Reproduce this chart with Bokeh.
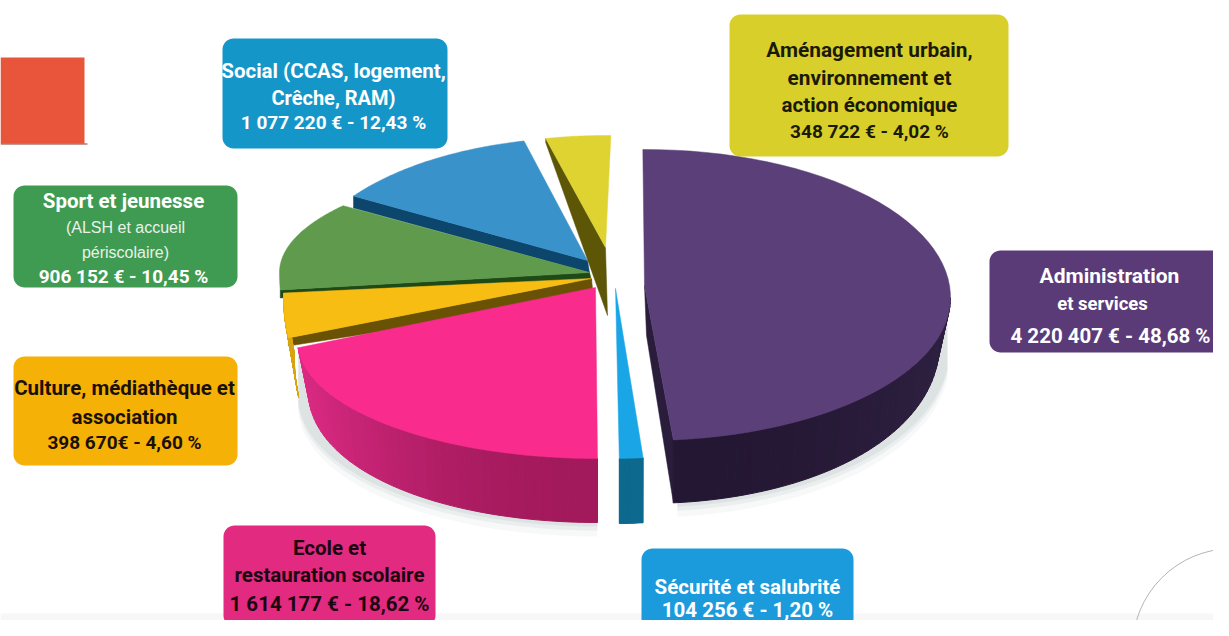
import numpy as np
from bokeh.plotting import figure
from bokeh.models import Range1d
from bokeh.core.properties import value
from bokeh.embed import file_html
from bokeh.resources import INLINE

# ---- data
categories = ["Administration et services", "Sécurité et salubrité", "Ecole et restauration scolaire",
              "Culture, médiathèque et association", "Sport et jeunesse", "Social", "Aménagement urbain"]
amounts = [4220407, 104256, 1614177, 398670, 906152, 1077220, 348722]
label_lines = [
    ["Administration", "et services", "4 220 407 € - 48,68 %"],
    ["Sécurité et salubrité", "104 256 € - 1,20 %"],
    ["Ecole et", "restauration scolaire", "1 614 177 € - 18,62 %"],
    ["Culture, médiathèque et", "association", "398 670€ - 4,60 %"],
    ["Sport et jeunesse", "(ALSH et accueil", "périscolaire)", "906 152 € - 10,45 %"],
    ["Social (CCAS, logement,", "Crêche, RAM)", "1 077 220 € - 12,43 %"],
    ["Aménagement urbain,", "environnement et", "action économique", "348 722 € - 4,02 %"],
]

# ---- styling / layout (page pixel coordinates)
top_cols = ["#5b3f78", "#1aa6e6", "#f92b8c", "#f7bd12", "#5f9a4d", "#3a92ca", "#dfd331"]
wall_a = ["#2e2040", "#0f7ba6", "#dc2a83", "#d8a50e", "#2f5a22", "#0d4a70", "#5f5a08"]
wall_b = ["#241733", "#0f6a8e", "#a31a5c", "#d8a50e", "#2f5a22", "#0d4a70", "#5f5a08"]
radial_cols = ["#2a1c3b", None, None, "#6a5204", "#1f4a17", "#0c466c", "#5c5606"]
box_cols = ["#5a3b78", "#1b9bdc", "#e22a80", "#f5b105", "#409b52", "#1596c9", "#d9cf2a"]
text_cols = ["#ffffff", "#ffffff", "#1a0510", "#1a1005", "#ffffff", "#ffffff", "#1a1a05"]
#            apex x,y  ellipse cx,cy   a    b_up b_dn start  scale
geom = [
    (644, 285, 645, 297, 305, 148, 143, 90.5, 1.0),
    (615, 288, 614, 285, 316, 173, 173, -84.8, 1.0),
    (595, 287, 597, 340, 300, 118, 118, -90.0, 1.29),
    (591, 278, 591, 295, 308, 100, 240, -169.8, 0.7),
    (589, 272, 589, 272, 310, 110, 250, -176.0, 1.1),
    (587, 260, 587, 280, 290, 143, 143, 143.8, 0.92),
    (605, 247, 605, 247, 260, 112, 112, 103.3, 1.0),
]
# arc-wall depth at side / at front, radial wall depth outer / apex, radial edge ("start"/"end"/None)
walls = [
    (38, 63, 63, 50, "end"),
    (64, 65, 0, 0, None),
    (45, 64, 0, 0, None),
    (60, 60, 8, 20, "start"),
    (0, 0, 8, 8, "start"),
    (0, 0, 12, 12, "start"),
    (0, 0, 4, 68, "start"),
]
boxes = [(989, 1235, 250, 352), (641, 853, 548, 650), (223, 435, 525, 626), (13, 237, 356, 465),
         (13, 237, 185, 287), (222, 447, 38, 148), (729, 1008, 14, 156)]
line_x = [[1109, 1102, 1110], [747, 747], [329, 329, 329], [124, 124, 124],
          [123, 125, 125, 123], [333, 333, 333], [869, 869, 869, 869]]
line_y = [[275, 303, 335], [586, 609], [547, 574, 603], [387, 416, 442],
          [200, 227, 252, 276], [70, 97, 122], [49, 77, 104, 131]]
line_size = [[21, 18.5, 20.5], [20.5, 20.5], [20.5, 20.5, 20.5], [20.5, 20.5, 19],
             [20.5, 16, 16, 19], [20.5, 20, 19], [20.8, 20.8, 20.5, 19]]

BOLD = "Roboto"

p = figure(width=1213, height=620, x_range=Range1d(0, 1213), y_range=Range1d(620, 0),
           output_backend="svg", toolbar_location=None, min_border=0,
           x_axis_type=None, y_axis_type=None, outline_line_color=None)
p.grid.visible = False
p.background_fill_color = "#ffffff"

# page furniture
p.quad(left=[0], right=[1240], top=[613], bottom=[640], fill_color="#f7f7f7", line_color=None)
p.quad(left=[0], right=[84], top=[57], bottom=[143], fill_color="#e8553a", line_color=None)
p.line(x=[0, 87], y=[143.5, 143.5], line_color="#8a3a2a", line_width=1)
p.circle(x=[1232], y=[648], radius=100, fill_color=None, line_color="#b5b5b5", line_width=1)


def ell(g, t):
    t = np.radians(t)
    s, c = np.sin(t), np.cos(t)
    return g[2] + g[4] * c, g[3] - np.where(s > 0, g[5], g[6]) * s


def rounded(l, r, t, b, rad=11):
    a = np.radians(np.arange(0, 91, 10))
    xs = np.r_[r - rad + rad * np.cos(a), l + rad - rad * np.sin(a), l + rad - rad * np.cos(a), r - rad + rad * np.sin(a)]
    ys = np.r_[t + rad - rad * np.sin(a), t + rad - rad * np.cos(a), b - rad + rad * np.sin(a), b - rad + rad * np.cos(a)]
    return list(xs), list(ys)


def depth(w, t):
    return w[0] + (w[1] - w[0]) * np.sqrt(np.abs(np.sin(np.radians(t))))


total = sum(amounts)
spans = [360.0 * v / total * g[8] for v, g in zip(amounts, geom)]

# soft shadow below the pie
for i, (a0, a1) in ((2, (-90, -176)), (0, (-84, -8))):
    g0, w0 = geom[i], walls[i]
    for grow, alpha in ((14, 0.05), (8, 0.07), (4, 0.09)):
        t = np.linspace(a0, a1, 40)
        x, y = ell(g0, t)
        h = depth(w0, t)
        p.patch(np.r_[x, x[::-1]].tolist(), np.r_[y, (y + h + grow)[::-1]].tolist(),
                fill_color="#5a7078", fill_alpha=alpha, line_color=None)

# slices, back to front
for i in [6, 5, 4, 3, 2, 1, 0]:
    g, w = geom[i], walls[i]
    t0, t1 = g[7], g[7] - spans[i]
    ts = np.linspace(t0, t1, 60)
    x, y = ell(g, ts)
    ax, ay = g[0], g[1]
    # radial wall
    if w[4]:
        ox, oy = (x[0], y[0]) if w[4] == "start" else (x[-1], y[-1])
        p.patch([ax, ox, ox, ax + 2], [ay, oy, oy + w[2], ay + w[3]],
                fill_color=radial_cols[i], line_color=radial_cols[i], line_width=0.5)
    # outer wall, drawn as a run of thin quads for the shading
    if w[1] > 0:
        tw = np.linspace(t1, -0.0, 50) if i == 0 else np.linspace(t0, t1, 50)
        xw, yw = ell(g, tw)
        hw = depth(w, tw)
        shrink = 0.035 * np.abs(np.cos(np.radians(tw)))
        xb = xw - (xw - g[2]) * shrink
        yb = yw + hw
        ca = np.array([int(wall_a[i][k:k + 2], 16) for k in (1, 3, 5)])
        cb = np.array([int(wall_b[i][k:k + 2], 16) for k in (1, 3, 5)])
        fr = np.abs(np.sin(np.radians(tw)))
        qx, qy, qc = [], [], []
        for k in range(len(tw) - 1):
            qx.append([xw[k], xw[k + 1], xb[k + 1], xb[k]])
            qy.append([yw[k], yw[k + 1], yb[k + 1], yb[k]])
            mix = ca + (cb - ca) * fr[k] ** 2
            qc.append("#%02x%02x%02x" % tuple(int(v) for v in mix))
        p.patches(qx, qy, fill_color=qc, line_color=qc, line_width=1)
    # top face
    p.patch(np.r_[ax, x].tolist(), np.r_[ay, y].tolist(), fill_color=top_cols[i],
            line_color=top_cols[i], line_width=0.5)

# label boxes and their text
for i in range(len(boxes)):
    bx, by = rounded(*boxes[i])
    p.patch(bx, by, fill_color=box_cols[i], line_color=None)
    for j, line in enumerate(label_lines[i]):
        light = i == 4 and j in (1, 2)
        p.text(x=[line_x[i][j]], y=[line_y[i][j]], text=[line], text_align="center",
               text_baseline="middle", text_color="#e8f2e8" if light else text_cols[i],
               text_font=value("Liberation Sans" if light else BOLD),
               text_font_style="normal" if light else "bold",
               text_font_size="%gpx" % line_size[i][j])

open("out.html", "w").write(file_html(p, INLINE))
